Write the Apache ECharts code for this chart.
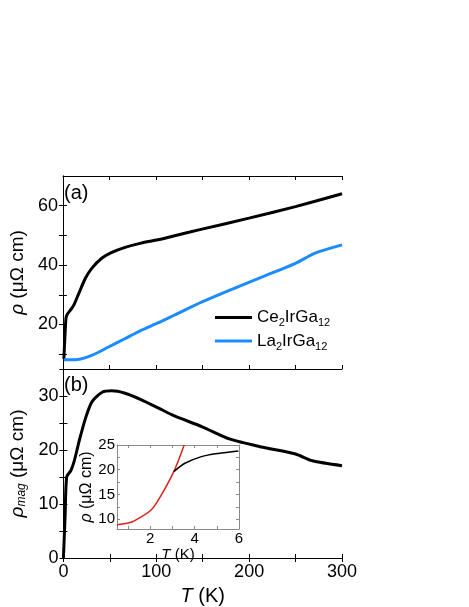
<!DOCTYPE html>
<html>
<head>
<meta charset="utf-8">
<script src="https://cdn.jsdelivr.net/npm/echarts@6/dist/echarts.min.js"></script>
<style>
  html, body { margin: 0; padding: 0; background: #fff; }
  #chart { width: 469px; height: 607px; }
</style>
</head>
<body>
<div id="chart"></div>
<script>
// (a) 電阻率
var ceT = [1, 2, 3, 3.5, 5, 8, 11.7, 17, 24, 31, 41.7, 52, 66, 84, 102, 119, 149.5, 200, 250, 300];
var ceRho = [8.4, 15, 21, 22.5, 23.6, 24.8, 26.5, 30.4, 35.5, 38.9, 42.3, 44.2, 45.9, 47.4, 48.5, 49.8, 52.1, 55.8, 59.7, 64.0];
var laT = [1, 13, 31, 49, 66.5, 84, 102, 119.5, 149.5, 179.5, 215, 250, 271, 300];
var laRho = [8.1, 8.1, 9.6, 12.4, 15.2, 18.0, 20.5, 23.1, 27.6, 31.6, 36.1, 40.6, 44.0, 46.8];
// (b) 磁性部分
var magT = [0, 1.8, 3.5, 8, 11.7, 17, 24, 31, 41.7, 52, 66.5, 84, 102, 119.5, 149.5, 179.5, 215, 250, 268, 300];
var magRho = [0, 7.7, 15, 16.2, 18.0, 21.7, 26, 29, 30.7, 30.95, 30.5, 29.3, 27.8, 26.3, 24.3, 22, 20.5, 19.25, 18.0, 17.1];
// 插圖 (低溫)
var redT = [0.5, 1.0, 1.3, 2.05, 2.5, 3.06, 3.53];
var redRho = [8.87, 9.2, 9.7, 11.9, 14.9, 19.6, 25.0];
var blkT = [3.06, 3.56, 4.31, 5.06, 5.97];
var blkRho = [19.6, 21.3, 22.65, 23.3, 23.8];
// 刻度
var topYTicks = [10, 20, 30, 40, 50, 60];
var topYLabels = [20, 40, 60];
var insetXTicks = [1, 2, 3, 4, 5, 6];
var insetXLabels = [2, 4, 6];
var insetYTicks = [10, 12.5, 15, 17.5, 20, 22.5, 25];
var insetYLabels = [10, 15, 20, 25];

function pairs(xs, ys) {
    return xs.map(function (x, i) { return [x, ys[i]]; });
}

var FONT = 'Liberation Sans, Arial, sans-serif';
var axisLine = { lineStyle: { color: '#000', width: 1 } };
var tick = { inside: true, length: 4, lineStyle: { color: '#000' } };
var grey = '#8a8a8a';
var insetLine = { lineStyle: { color: grey, width: 1 } };
var insetTick = { inside: true, length: 3, lineStyle: { color: grey } };

function hundreds(v) { return v % 100 === 0 ? v : ''; }
function tens(v) { return v % 10 === 0 ? v : ''; }

var chart = echarts.init(document.getElementById('chart'));
var option = {
    backgroundColor: '#fff',
    animation: false,
    textStyle: { fontFamily: FONT },
    grid: [
        { left: 59, top: 176, width: 283, height: 193 },
        { left: 59, top: 369, width: 283, height: 191 },
        { left: 117, top: 445, width: 122, height: 84 }
    ],
    legend: {
        orient: 'vertical',
        left: 210,
        top: 304,
        itemGap: 4,
        itemWidth: 37,
        itemHeight: 3,
        icon: 'rect',
        data: ['Ce2IrGa12', 'La2IrGa12'],
        formatter: function (name) {
            return '{n|' + name.slice(0, 2) + '}{s|2}{n|IrGa}{s|12}';
        },
        textStyle: {
            fontFamily: FONT,
            rich: {
                n: { fontSize: 17, lineHeight: 22, color: '#000', fontFamily: FONT },
                s: { fontSize: 11, color: '#000', fontFamily: FONT, verticalAlign: 'bottom', padding: [7, 0, 0, 0] }
            }
        }
    },
    graphic: [
        { type: 'text', left: 64, top: 183, style: { text: '(a)', fontSize: 20, fontFamily: FONT, fill: '#000' } },
        { type: 'text', left: 64, top: 375, style: { text: '(b)', fontSize: 20, fontFamily: FONT, fill: '#000' } }
    ],
    xAxis: [
        { gridIndex: 0, type: 'value', min: 0, max: 300, interval: 50, position: 'bottom',
          axisLine: axisLine, axisTick: tick, axisLabel: { show: false }, splitLine: { show: false } },
        { gridIndex: 0, type: 'value', min: 0, max: 300, interval: 50, position: 'top',
          axisLine: axisLine, axisTick: tick, axisLabel: { show: false }, splitLine: { show: false } },
        { gridIndex: 1, type: 'value', min: 0, max: 300, interval: 50, position: 'bottom',
          axisLine: axisLine, axisTick: tick, splitLine: { show: false },
          axisLabel: { formatter: hundreds, fontSize: 18, color: '#000', margin: 5, fontFamily: FONT },
          name: '{i|T} (K)', nameLocation: 'middle', nameGap: 28,
          nameTextStyle: { fontSize: 20, color: '#000', fontFamily: FONT,
              rich: { i: { fontSize: 20, fontStyle: 'italic', fontFamily: FONT } } } },
        { gridIndex: 1, type: 'value', min: 0, max: 300, interval: 50, position: 'top',
          axisLine: axisLine, axisTick: tick, axisLabel: { show: false }, splitLine: { show: false } },
        { gridIndex: 2, type: 'value', min: 0.5, max: 6, position: 'bottom',
          axisLine: insetLine, axisTick: Object.assign({ customValues: insetXTicks }, insetTick), splitLine: { show: false },
          axisLabel: { customValues: insetXLabels, fontSize: 15, color: '#000', margin: 2, fontFamily: FONT },
          name: '{i|T} (K)', nameLocation: 'middle', nameGap: 11,
          nameTextStyle: { fontSize: 15, color: '#000', fontFamily: FONT,
              rich: { i: { fontSize: 15, fontStyle: 'italic', fontFamily: FONT } } } },
        { gridIndex: 2, type: 'value', min: 0.5, max: 6, position: 'top',
          axisLine: insetLine, axisTick: Object.assign({ customValues: insetXTicks }, insetTick),
          axisLabel: { show: false }, splitLine: { show: false } }
    ],
    yAxis: [
        { gridIndex: 0, type: 'value', min: 5, max: 70, position: 'left',
          axisLine: axisLine, axisTick: Object.assign({ customValues: topYTicks }, tick), splitLine: { show: false },
          axisLabel: { customValues: topYLabels, fontSize: 18, color: '#000', margin: 5, fontFamily: FONT },
          name: '{i|ρ} (μΩ cm)', nameLocation: 'middle', nameGap: 34, nameRotate: 90,
          nameTextStyle: { fontSize: 19, color: '#000', fontFamily: FONT,
              rich: { i: { fontSize: 19, fontStyle: 'italic', fontFamily: FONT } } } },
        { gridIndex: 0, type: 'value', min: 5, max: 70, position: 'right',
          axisLine: axisLine, axisTick: Object.assign({ customValues: topYTicks }, tick),
          axisLabel: { show: false }, splitLine: { show: false } },
        { gridIndex: 1, type: 'value', min: 0, max: 35, interval: 5, position: 'left',
          axisLine: axisLine, axisTick: tick, splitLine: { show: false },
          axisLabel: { formatter: tens, fontSize: 18, color: '#000', margin: 5, fontFamily: FONT },
          name: '{i|ρ}{s|mag} (μΩ cm)', nameLocation: 'middle', nameGap: 34, nameRotate: 90,
          nameTextStyle: { fontSize: 19, color: '#000', fontFamily: FONT,
              rich: {
                  i: { fontSize: 19, fontStyle: 'italic', fontFamily: FONT },
                  s: { fontSize: 12, fontStyle: 'italic', fontFamily: FONT, verticalAlign: 'bottom', padding: [8, 0, 0, 0] }
              } } },
        { gridIndex: 1, type: 'value', min: 0, max: 35, interval: 5, position: 'right',
          axisLine: axisLine, axisTick: tick, axisLabel: { show: false }, splitLine: { show: false } },
        { gridIndex: 2, type: 'value', min: 8, max: 25, position: 'left',
          axisLine: insetLine, axisTick: Object.assign({ customValues: insetYTicks }, insetTick), splitLine: { show: false },
          axisLabel: { customValues: insetYLabels, fontSize: 15, color: '#000', margin: 2, fontFamily: FONT },
          name: '{i|ρ} (μΩ cm)', nameLocation: 'middle', nameGap: 19, nameRotate: 90,
          nameTextStyle: { fontSize: 16, color: '#000', fontFamily: FONT,
              rich: { i: { fontSize: 16, fontStyle: 'italic', fontFamily: FONT } } } },
        { gridIndex: 2, type: 'value', min: 8, max: 25, position: 'right',
          axisLine: insetLine, axisTick: Object.assign({ customValues: insetYTicks }, insetTick),
          axisLabel: { show: false }, splitLine: { show: false } }
    ],
    series: [
        { name: 'Ce2IrGa12', type: 'line', xAxisIndex: 0, yAxisIndex: 0, data: pairs(ceT, ceRho),
          showSymbol: false, smooth: 0.25, color: '#000', lineStyle: { color: '#000', width: 3 } },
        { name: 'La2IrGa12', type: 'line', xAxisIndex: 0, yAxisIndex: 0, data: pairs(laT, laRho),
          showSymbol: false, smooth: 0.25, color: '#1a8cff', lineStyle: { color: '#1a8cff', width: 3 } },
        { name: 'mag', type: 'line', xAxisIndex: 2, yAxisIndex: 2, data: pairs(magT, magRho),
          showSymbol: false, smooth: 0.25, lineStyle: { color: '#000', width: 3 } },
        { name: 'red', type: 'line', xAxisIndex: 4, yAxisIndex: 4, data: pairs(redT, redRho),
          showSymbol: false, smooth: 0.3, lineStyle: { color: '#e0201b', width: 1.5 } },
        { name: 'blk', type: 'line', xAxisIndex: 4, yAxisIndex: 4, data: pairs(blkT, blkRho),
          showSymbol: false, smooth: 0.3, lineStyle: { color: '#000', width: 1.5 } }
    ]
};
chart.setOption(option);

window.addEventListener('resize', function () {
    chart.resize();
});
</script>
</body>
</html>
